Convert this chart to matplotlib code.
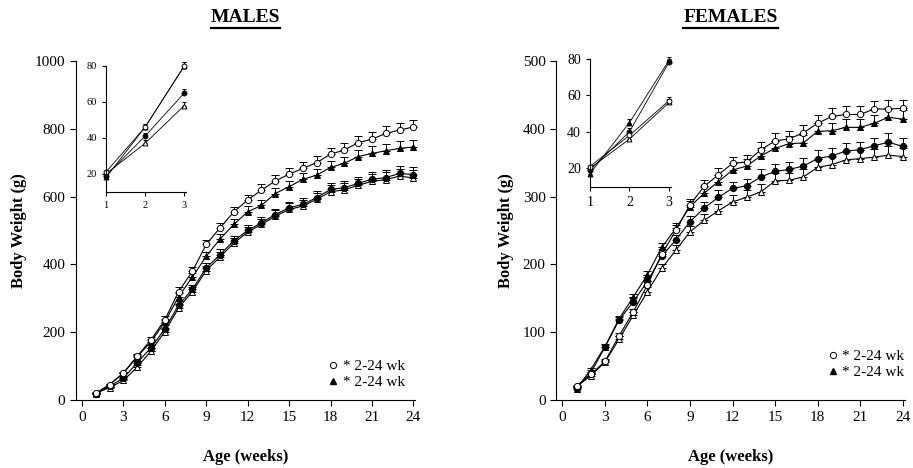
import numpy as np
import matplotlib.pyplot as plt
from matplotlib.lines import Line2D

plt.rcParams['font.family'] = ['Liberation Serif', 'DejaVu Serif']

weeks = list(range(1, 25))
inset_weeks = [1, 2, 3]

# males, body weight (g) per week
m_open_circle = [21, 46, 80, 130, 178, 237, 320, 380, 459, 508, 555, 590,
                 619, 646, 666, 683, 700, 725, 737, 759, 769, 786, 796, 805]
m_filled_tri = [18, 46, 80, 128, 172, 230, 305, 363, 424, 475, 518, 555,
                574, 609, 629, 651, 663, 686, 698, 718, 727, 735, 742, 746]
m_filled_circle = [19, 41, 65, 110, 155, 210, 280, 327, 390, 429, 470, 500,
                   523, 547, 567, 577, 597, 621, 626, 639, 651, 656, 668, 665]
m_open_tri = [20, 37, 58, 97, 145, 202, 272, 320, 382, 422, 463, 495,
              518, 542, 562, 572, 592, 614, 620, 633, 645, 650, 660, 655]
m_sem = [2, 3, 4, 6, 8, 10, 12, 13, 14, 15, 15, 16,
         17, 17, 18, 18, 19, 19, 20, 20, 21, 21, 22, 22]

# females, body weight (g) per week
f_open_circle = [21, 38, 57, 95, 130, 170, 215, 250, 288, 315, 332, 349,
                 351, 369, 382, 385, 394, 408, 418, 421, 421, 429, 429, 430]
f_filled_tri = [17, 45, 79, 120, 152, 185, 225, 253, 285, 305, 322, 339,
                345, 360, 371, 378, 379, 396, 397, 402, 402, 408, 417, 414]
f_filled_circle = [19, 40, 78, 118, 145, 175, 212, 236, 263, 283, 299, 312,
                   316, 329, 337, 340, 345, 356, 360, 367, 369, 375, 380, 374]
f_open_tri = [20, 36, 56, 90, 125, 160, 194, 221, 248, 265, 279, 292,
              299, 307, 323, 324, 329, 343, 347, 354, 356, 358, 361, 359]
f_sem = [1, 2, 3, 4, 5, 6, 7, 8, 9, 9, 10, 10,
         10, 11, 11, 11, 12, 12, 12, 12, 12, 12, 13, 13]

inset_sem = [1, 2, 2]

styles = [  # marker, face colour
    ('^', 'white'),   # open triangle
    ('o', 'black'),   # filled circle
    ('^', 'black'),   # filled triangle
    ('o', 'white'),   # open circle
]


def draw_series(ax, x, series, sem, ms, capsize, lw):
    for ys, (mk, fc) in zip(series, styles):
        err = [np.zeros(len(ys)), np.array(sem[:len(ys)])]
        ax.errorbar(x, ys, yerr=err, color='black', lw=lw, elinewidth=0.7,
                    capsize=capsize, capthick=0.7, marker=mk, ms=ms,
                    mfc=fc, mec='black', mew=0.7, clip_on=False)


def style_axes(ax, size):
    for s in ['top', 'right']:
        ax.spines[s].set_visible(False)
    ax.tick_params(direction='out', labelsize=size, length=4, width=0.8)


fig = plt.figure(figsize=(9.13, 4.68), dpi=100)

panels = [
    dict(rect=[0.083, 0.145, 0.372, 0.725], inset=[0.116, 0.590, 0.088, 0.269],
         series=[m_open_tri, m_filled_circle, m_filled_tri, m_open_circle],
         sem=m_sem, ylim=(0, 1000), yticks=range(0, 1001, 200),
         title='MALES', leg=(1.0, 0.0), inset_size=7.5),
    dict(rect=[0.609, 0.145, 0.382, 0.725], inset=[0.646, 0.601, 0.089, 0.274],
         series=[f_open_tri, f_filled_circle, f_filled_tri, f_open_circle],
         sem=f_sem, ylim=(0, 500), yticks=range(0, 501, 100),
         title='FEMALES', leg=(1.03, 0.03), inset_size=10),
]

titles = []
for p in panels:
    ax = fig.add_axes(p['rect'])
    draw_series(ax, weeks, p['series'], p['sem'], 4.5, 3, 0.8)
    ax.set_xlim(-0.45, 24.15)
    ax.set_ylim(*p['ylim'])
    ax.set_xticks(range(0, 25, 3))
    ax.set_yticks(list(p['yticks']))
    style_axes(ax, 11)
    ax.set_xlabel('Age (weeks)', fontsize=12, fontweight='bold', labelpad=18)
    ax.set_ylabel('Body Weight (g)', fontsize=12, fontweight='bold', labelpad=6)

    handles = [Line2D([], [], marker='o', ls='none', ms=4.5, mfc='white', mec='black', mew=0.7),
               Line2D([], [], marker='^', ls='none', ms=4.5, mfc='black', mec='black')]
    ax.legend(handles, ['* 2-24 wk', '* 2-24 wk'], loc='lower right',
              bbox_to_anchor=p['leg'], frameon=False, fontsize=11,
              handlelength=0.6, handletextpad=0.3, labelspacing=0.15,
              borderpad=0.2)

    cx = (p['rect'][0] + p['rect'][0] + p['rect'][2]) / 2
    t = fig.text(cx, 0.962, p['title'], ha='center', va='center',
                 fontsize=14, fontweight='bold')
    titles.append(t)

    ins = fig.add_axes(p['inset'])
    inset_series = [s[:3] for s in p['series']]
    draw_series(ins, inset_weeks, inset_series, inset_sem, 3.5, 1.5, 0.6)
    ins.set_xlim(1, 3.05)
    ins.set_ylim(10, 80)
    ins.set_xticks([1, 2, 3])
    ins.set_yticks([20, 40, 60, 80])
    style_axes(ins, p['inset_size'])
    ins.tick_params(length=3)

# underline the titles
fig.canvas.draw()
inv = fig.transFigure.inverted()
for t in titles:
    bb = t.get_window_extent()
    (x0, y0), (x1, y1) = inv.transform([[bb.x0, bb.y0], [bb.x1, bb.y1]])
    fig.add_artist(Line2D([x0, x1], [y0 - 0.004, y0 - 0.004], color='black',
                          lw=1.6, transform=fig.transFigure))

fig.savefig('out.png', dpi=100)
